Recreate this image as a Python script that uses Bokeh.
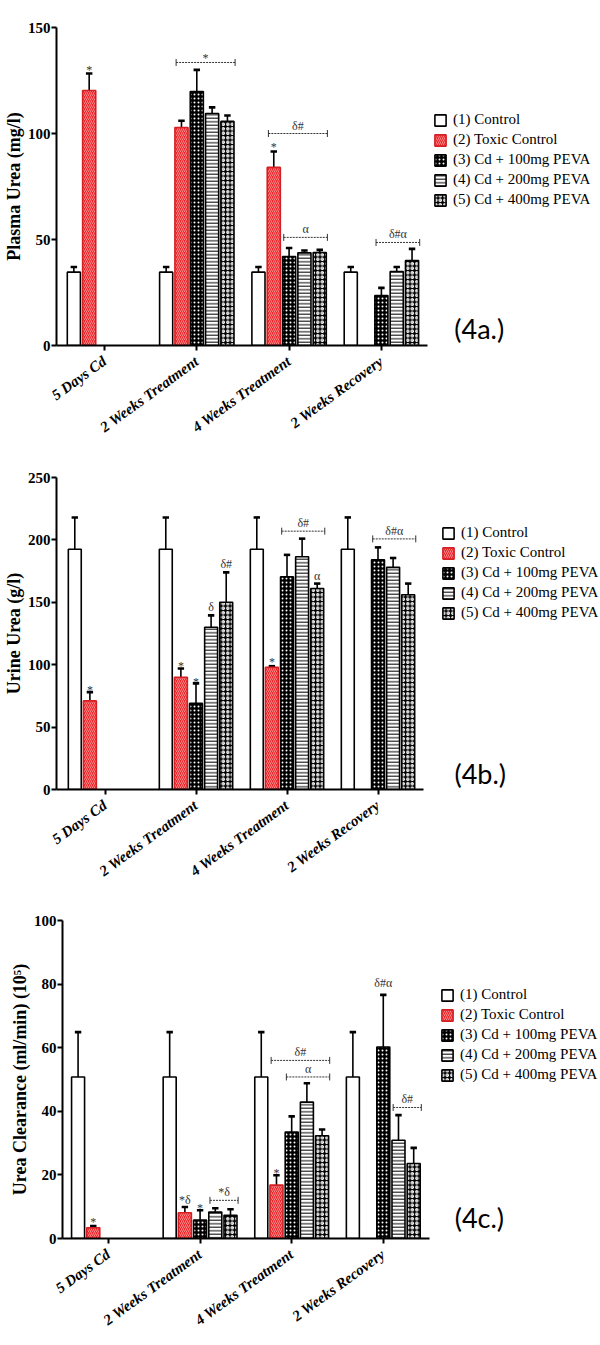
import numpy as np
from bokeh.plotting import figure
from bokeh.models import Range1d, FixedTicker, Legend, LegendItem, Label, ColumnDataSource
from bokeh.layouts import column
from bokeh.embed import file_html
from bokeh.resources import INLINE
from bokeh.core.properties import value

nan = float("nan")

categories = ["5 Days Cd", "2 Weeks Treatment", "4 Weeks Treatment", "2 Weeks Recovery"]
groups = ["(1) Control", "(2) Toxic Control", "(3) Cd + 100mg PEVA",
          "(4) Cd + 200mg PEVA", "(5) Cd + 400mg PEVA"]

# ---- (4a) Plasma urea (mg/l) ----
plasma_control = [34.6, 34.6, 34.6, 34.6]
plasma_control_err = [2.4, 2.4, 2.4, 2.4]
plasma_toxic = [120.3, 102.8, 84.0, nan]
plasma_toxic_err = [8.0, 3.2, 7.5, nan]
plasma_100 = [nan, 119.8, 42.0, 23.6]
plasma_100_err = [nan, 10.2, 4.0, 3.6]
plasma_200 = [nan, 109.4, 43.7, 34.9]
plasma_200_err = [nan, 2.9, 1.1, 2.1]
plasma_400 = [nan, 105.7, 43.9, 40.1]
plasma_400_err = [nan, 2.8, 1.2, 5.5]
# (category, first bar, last bar, y, text)
plasma_marks = [(0, 1, 1, 132, "*"), (1, 1, 4, 133.5, "*"), (2, 1, 1, 95.3, "*"),
                (2, 1, 4, 100, "δ#"), (2, 2, 4, 51, "α"), (3, 2, 4, 48.6, "δ#α")]

# ---- (4b) Urine urea (g/l) ----
urine_control = [192.5, 192.5, 192.5, 192.5]
urine_control_err = [25.5, 25.5, 25.5, 25.5]
urine_toxic = [71.0, 90.0, 98.0, nan]
urine_toxic_err = [7.0, 7.0, 0.8, nan]
urine_100 = [nan, 69.0, 170.5, 184.0]
urine_100_err = [nan, 16.0, 17.5, 10.0]
urine_200 = [nan, 130.0, 186.5, 178.0]
urine_200_err = [nan, 9.5, 14.5, 7.5]
urine_400 = [nan, 150.0, 161.0, 156.0]
urine_400_err = [nan, 24.0, 4.0, 9.0]
urine_marks = [(0, 1, 1, 83, "*"), (1, 1, 1, 102.4, "*"), (1, 2, 2, 89.6, "*"),
               (1, 3, 3, 146, "δ"), (1, 4, 4, 181, "δ#"), (2, 1, 1, 105, "*"),
               (2, 2, 4, 207, "δ#"), (2, 4, 4, 171, "α"), (3, 2, 4, 200.8, "δ#α")]

# ---- (4c) Urea clearance (ml/min)(10^5) ----
clear_control = [50.8, 50.8, 50.8, 50.8]
clear_control_err = [14.1, 14.1, 14.1, 14.1]
clear_toxic = [3.4, 8.1, 16.8, nan]
clear_toxic_err = [0.5, 1.8, 3.1, nan]
clear_100 = [nan, 5.8, 33.5, 60.2]
clear_100_err = [nan, 3.1, 4.9, 16.4]
clear_200 = [nan, 8.3, 42.9, 30.9]
clear_200_err = [nan, 1.2, 5.9, 7.9]
clear_400 = [nan, 7.3, 32.3, 23.6]
clear_400_err = [nan, 1.9, 2.0, 4.9]
clear_marks = [(0, 1, 1, 6.4, "*"), (1, 1, 1, 12, "*δ"), (1, 2, 2, 11, "*"),
               (1, 3, 4, 12, "*δ"), (2, 1, 1, 21.7, "*"), (2, 1, 4, 56, "δ#"),
               (2, 2, 4, 50.8, "α"), (3, 2, 2, 80.2, "δ#α"), (3, 3, 4, 41.2, "δ#")]

SLOT = 0.166
BAR_W = 0.142
CAP = 0.035
SERIF = "Liberation Serif"
W = 600

bar_styles = [
    dict(fill_color="white", line_color="black"),
    dict(fill_color="#e8282c", line_color="#d41f24", hatch_pattern="/",
         hatch_color="#ff9d9d", hatch_scale=4, hatch_weight=0.8),
    dict(fill_color="black", line_color="black", hatch_pattern=".",
         hatch_color="white", hatch_scale=4, hatch_weight=1.6),
    dict(fill_color="white", line_color="black", hatch_pattern="-",
         hatch_color="black", hatch_scale=3.5, hatch_weight=1),
    dict(fill_color="black", line_color="black", hatch_pattern="o",
         hatch_color="white", hatch_scale=4.5, hatch_weight=1.3),
]


def make_panel(series, errors, marks, ylabel, ymax, ystep, tag, tag_x, tag_y,
               left, top, fh, bottom, unit_px, x_start, legend_loc):
    fw = W - left
    p = figure(frame_width=fw, frame_height=fh, min_border_left=left,
               min_border_right=0, min_border_top=top,
               min_border_bottom=bottom, output_backend="svg", toolbar_location=None,
               x_range=Range1d(x_start, x_start + fw / unit_px), y_range=Range1d(0, ymax),
               background_fill_color="white", border_fill_color="white",
               outline_line_color=None)
    p.grid.visible = False

    items = []
    for k, (vals, errs) in enumerate(zip(series, errors)):
        idx = [i for i, v in enumerate(vals) if not np.isnan(v)]
        xs = [i + (k - 2) * SLOT for i in idx]
        tops = [vals[i] for i in idx]
        ups = [vals[i] + errs[i] for i in idx]
        src = ColumnDataSource(dict(x=xs, top=tops, up=ups,
                                    xl=[x - CAP for x in xs], xr=[x + CAP for x in xs]))
        p.segment(x0="x", y0="top", x1="x", y1="up", source=src,
                  line_color="black", line_width=1.6)
        p.segment(x0="xl", y0="up", x1="xr", y1="up", source=src,
                  line_color="black", line_width=2.6)
        r = p.vbar(x="x", top="top", width=BAR_W, bottom=0, source=src,
                   line_width=1.6, **bar_styles[k])
        items.append(LegendItem(label=groups[k], renderers=[r]))

    for g, b0, b1, y, txt in marks:
        if b0 == b1:
            xc = g + (b0 - 2) * SLOT
            p.text(x=[xc], y=[y], text=[txt], text_align="center",
                   text_baseline="middle", y_offset=4 if txt == "*" else 0,
                   text_font=value(SERIF), text_font_size="12px", text_color="#333333")
        else:
            xl = g + (b0 - 2) * SLOT - 0.35 * SLOT
            xr = g + (b1 - 2) * SLOT + 0.5 * SLOT
            p.segment(x0=[xl], y0=[y], x1=[xr], y1=[y], line_dash="2 1",
                      line_color="#333333", line_width=1)
            p.scatter(x=[xl, xr], y=[y, y], marker="dash", size=7, angle=np.pi / 2,
                      line_color="#333333", line_width=1)
            p.text(x=[(xl + xr) / 2], y=[y], text=[txt], text_align="center",
                   text_baseline="bottom", y_offset=3 if txt == "*" else -1,
                   text_font=value(SERIF), text_font_size="12px", text_color="#333333")

    p.xaxis.ticker = FixedTicker(ticks=[0, 1, 2, 3])
    p.xaxis.bounds = (x_start, 3.5)
    p.xaxis.major_label_overrides = {i: c for i, c in enumerate(categories)}
    p.xaxis.major_label_orientation = 0.63
    p.xaxis.major_label_text_font = SERIF
    p.xaxis.major_label_text_font_style = "bold italic"
    p.xaxis.major_label_text_font_size = "15px"
    p.xaxis.major_label_standoff = 9
    p.yaxis.ticker = FixedTicker(ticks=list(range(0, ymax + 1, ystep)))
    p.yaxis.major_label_text_font = SERIF
    p.yaxis.major_label_text_font_style = "bold"
    p.yaxis.major_label_text_font_size = "15px"
    p.yaxis.major_label_standoff = 1
    p.yaxis.axis_label = ylabel
    p.yaxis.axis_label_text_font = SERIF
    p.yaxis.axis_label_text_font_style = "bold"
    p.yaxis.axis_label_text_font_size = "18px"
    p.yaxis.axis_label_standoff = 1
    for ax in (p.xaxis, p.yaxis):
        ax.axis_line_width = 2
        ax.axis_line_color = "black"
        ax.major_tick_line_width = 2
        ax.major_tick_out = 5
        ax.major_tick_in = 0
        ax.minor_tick_line_color = None
        ax.major_label_text_color = "black"
        ax.axis_label_text_color = "black"

    legend = Legend(items=items, location=legend_loc, border_line_color=None,
                    background_fill_alpha=0, glyph_width=14, glyph_height=14,
                    label_height=14, spacing=3, padding=4, margin=0,
                    label_standoff=6, label_text_font=SERIF,
                    label_text_font_size="15px", label_text_color="black")
    p.add_layout(legend)

    p.add_layout(Label(x=tag_x, y=tag_y, text=tag, text_font="Lato",
                       text_font_size="27px", text_align="left",
                       text_baseline="middle", text_color="black"))
    return p


pa = make_panel([plasma_control, plasma_toxic, plasma_100, plasma_200, plasma_400],
                [plasma_control_err, plasma_toxic_err, plasma_100_err, plasma_200_err, plasma_400_err],
                plasma_marks, "Plasma Urea (mg/l)", 150, 50, "(4a.)", 3.79, 8,
                55, 27, 318, 103, 92.3, -0.52, (377, 137))
pb = make_panel([urine_control, urine_toxic, urine_100, urine_200, urine_400],
                [urine_control_err, urine_toxic_err, urine_100_err, urine_200_err, urine_400_err],
                urine_marks, "Urine Urea (g/l)", 250, 50, "(4b.)", 3.84, 13,
                53, 29, 312, 103, 91.0, -0.533, (385, 168))
pc = make_panel([clear_control, clear_toxic, clear_100, clear_200, clear_400],
                [clear_control_err, clear_toxic_err, clear_100_err, clear_200_err, clear_400_err],
                clear_marks, "Urea Clearance (ml/min) (10⁵)", 100, 20, "(4c.)", 3.78, 6.6,
                62, 28, 318, 107, 91.6, -0.502, (378, 155))

boxes = [column(p, styles={"outline": "1px solid #dcdcdc", "outline-offset": "-2px"})
         for p in (pa, pb, pc)]
open("out.html", "w").write(file_html(boxes, INLINE))
